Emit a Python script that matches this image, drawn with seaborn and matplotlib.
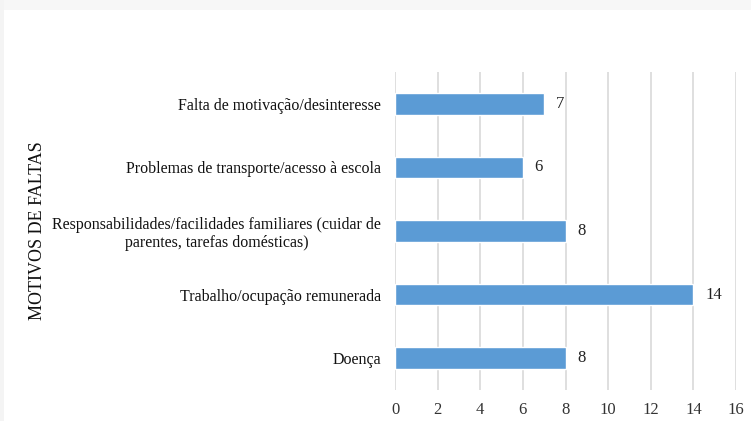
import matplotlib
matplotlib.use("Agg")
import matplotlib.pyplot as plt
import seaborn as sns
import pandas as pd
from matplotlib.patches import Rectangle

categories = [
    "Falta de motivação/desinteresse",
    "Problemas de transporte/acesso à escola",
    "Responsabilidades/facilidades familiares (cuidar de\nparentes, tarefas domésticas)",
    "Trabalho/ocupação remunerada",
    "Doença",
]
values = [7, 6, 8, 14, 8]
xticks = [0, 2, 4, 6, 8, 10, 12, 14, 16]

sns.set_theme(style="white")
plt.rcParams['font.family'] = ['Liberation Serif', 'DejaVu Serif']

df = pd.DataFrame({"motivo": categories, "n": values})

fig = plt.figure(figsize=(7.51, 4.21), dpi=100)
fig.patch.set_facecolor("white")
# light frame strips
fig.add_artist(Rectangle((0, 1 - 10/421), 1, 10/421, transform=fig.transFigure,
                         facecolor="#f7f7f7", edgecolor="none", zorder=0))
fig.add_artist(Rectangle((0, 0), 4/751, 1, transform=fig.transFigure,
                         facecolor="#f4f4f4", edgecolor="none", zorder=0))

ax = fig.add_axes([395/751, 31/421, (736-395)/751, (390-72)/421])
sns.barplot(data=df, x="n", y="motivo", orient="h", color="#5B9BD5",
            width=0.34, saturation=1, ax=ax, zorder=3)

ax.set_xlim(0, 16)
ax.set_ylim(4.5, -0.5)
ax.set_xticks(xticks)
ax.set_xticklabels([str(t) for t in xticks])
ax.grid(axis="x", color="#d9d9d9", linewidth=1.2, zorder=0)
ax.set_axisbelow(True)
for s in ax.spines.values():
    s.set_visible(False)
ax.tick_params(axis="x", length=0, pad=9, labelsize=12, labelcolor="#333333")
ax.tick_params(axis="y", length=0, pad=10, labelsize=11.5, labelcolor="#111111")
for lbl in ax.get_yticklabels():
    lbl.set_multialignment("center")
ax.set_xlabel("")
ax.set_ylabel("")

for i, v in enumerate(values):
    ax.text(v + 0.55, i, str(v), va="center", ha="left", fontsize=12, color="#222222")

fig.text(38/751, 1 - 231/421, "MOTIVOS DE FALTAS", rotation=90, va="center",
         ha="center", fontsize=13, color="#111111")

fig.savefig("out.png", dpi=100, facecolor="white")
